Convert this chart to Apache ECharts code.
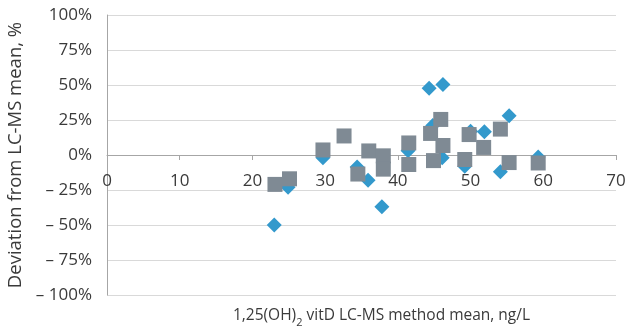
<!DOCTYPE html>
<html>
<head>
<meta charset="utf-8">
<script src="https://cdn.jsdelivr.net/npm/echarts@6/dist/echarts.min.js"></script>
<style>html,body{margin:0;padding:0;background:#fff}#c{width:628px;height:336px}</style>
</head>
<body>
<div id="c"></div>
<script>
// Blue diamonds series: [x (ng/L), deviation %]
var diamondX = [23.0, 24.9, 29.7, 34.4, 35.9, 37.8, 41.4, 44.3, 46.2, 44.8, 46.1, 50.0, 49.2, 51.9, 54.1, 55.3, 59.3];
var diamondY = [-50, -23, -2, -8.6, -18, -37, 3, 47.6, 50.3, 21, -2, 17, -8, 16.6, -12, 28, -1.4];
// Gray squares series
var squareX = [23.1, 25.1, 29.7, 32.6, 34.5, 36.0, 38.0, 38.0, 41.5, 41.5, 44.5, 45.9, 46.2, 44.9, 49.8, 49.2, 51.8, 54.1, 55.3, 59.3];
var squareY = [-21, -17, 3.6, 13.6, -13.6, 2.9, -0.6, -10.1, 8.6, -6.8, 15.4, 25.4, 6.8, -4, 14.6, -3.2, 5.4, 18.5, -5.4, -5.7];
var xTicks = [0, 10, 20, 30, 40, 50, 60, 70];
var yTicks = [-100, -75, -50, -25, 0, 25, 50, 75, 100];

function pairs(xs, ys) { return xs.map(function (x, i) { return [x, ys[i]]; }); }

var font = '"Open Sans", "Noto Sans", sans-serif';
var txt = '#3a3a3a';
var chart = echarts.init(document.getElementById('c'), null, { renderer: 'canvas' });
chart.setOption({
  animation: false,
  grid: { left: 107, right: 12, top: 15, bottom: 41, containLabel: false, outerBoundsMode: 'none' },
  xAxis: {
    type: 'value', min: xTicks[0], max: xTicks[xTicks.length - 1], interval: 10,
    offset: -140,
    axisLine: { show: true, onZero: false, lineStyle: { color: '#a6a6a6', width: 1 } },
    axisTick: { show: true, length: 5, inside: false, lineStyle: { color: '#a6a6a6' } },
    axisLabel: { fontSize: 17, color: txt, fontFamily: font, margin: 18, showMaxLabel: true, showMinLabel: true },
    splitLine: { show: false },
    name: '{a|1,25(OH)}{s|2}{a| vitD LC-MS method mean, ng/L}',
    nameLocation: 'middle', nameGap: 149,
    nameTextStyle: {
      color: txt, fontFamily: font, padding: [0, 0, 0, 40],
      rich: {
        a: { fontSize: 15.5, color: txt, fontFamily: font, verticalAlign: 'bottom', lineHeight: 20 },
        s: { fontSize: 11, color: txt, fontFamily: font, verticalAlign: 'bottom', lineHeight: 14, padding: [0, 0, -4, 0] }
      }
    }
  },
  yAxis: {
    type: 'value', min: yTicks[0], max: yTicks[yTicks.length - 1], interval: 25,
    axisLine: { show: true, lineStyle: { color: '#a6a6a6', width: 1 } },
    axisTick: { show: false },
    axisLabel: {
      fontSize: 17, color: txt, fontFamily: font, margin: 15,
      formatter: function (v) { return v < 0 ? '\u2013 ' + Math.abs(v) + '%' : v + '%'; }
    },
    splitLine: { show: true, lineStyle: { color: '#d9d9d9', width: 1 } },
    name: 'Deviation from LC-MS mean, %', nameLocation: 'middle', nameGap: 80, nameRotate: 90,
    nameTextStyle: { fontSize: 18.5, color: txt, fontFamily: font }
  },
  series: [
    {
      type: 'scatter', data: pairs(diamondX, diamondY), symbol: 'diamond', symbolSize: 15,
      itemStyle: { color: '#3399cc', opacity: 1 }, z: 2
    },
    {
      type: 'scatter', data: pairs(squareX, squareY), symbol: 'rect', symbolSize: 15,
      itemStyle: { color: '#7f8a94', opacity: 1 }, z: 3
    }
  ]
});
</script>
</body>
</html>
